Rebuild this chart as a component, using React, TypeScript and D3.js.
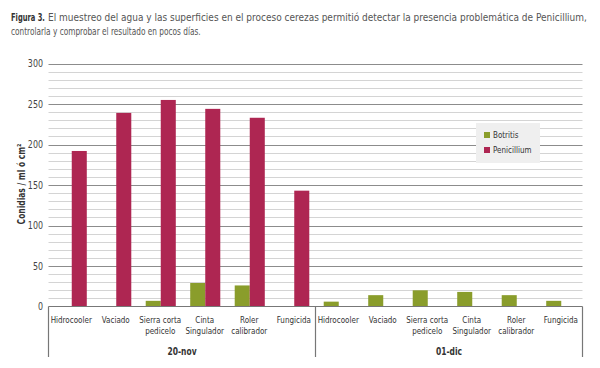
import React, { useEffect, useRef } from "react";
import * as d3 from "d3";

// Chart values
const groups = ["20-nov", "01-dic"];
const categories = ["Hidrocooler", "Vaciado", "Sierra corta\npedicelo", "Cinta\nSingulador", "Roler\ncalibrador", "Fungicida"];
const seriesNames = ["Botritis", "Penicillium"];
const botritis = [0, 0, 7, 29, 26, 0, 6, 14, 20, 18, 14, 7];
const penicillium = [192, 239, 255, 244, 233, 143, 0, 0, 0, 0, 0, 0];
const yTicks = [0, 50, 100, 150, 200, 250, 300];

const colors = { Botritis: "#8a9d2b", Penicillium: "#ae2652" };
const FONT = "'DejaVu Sans Condensed', 'Roboto', sans-serif";
const SQUEEZE = 0.84; // horizontal squeeze to imitate the narrow font of the original

const App = () => {
  const ref = useRef<SVGSVGElement>(null);

  useEffect(() => {
    const svg = d3.select(ref.current);
    svg.selectAll("*").remove();

    const left = 48.5, right = 582.5, top = 63.5, bottom = 306.5;

    // Caption lines, squeezed horizontally to the widths in the original
    const fitText = (x0: number, y0: number, width: number, txt: string, bold: boolean, fill: string) => {
      const t = svg.append("text").attr("x", 0).attr("y", 0)
        .attr("font-family", FONT).attr("font-size", 11)
        .attr("font-weight", bold ? "bold" : "normal").attr("fill", fill)
        .text(txt);
      const len = (t.node() as SVGTextElement).getComputedTextLength();
      t.attr("transform", `translate(${x0},${y0}) scale(${width / len},1)`);
    };
    fitText(11, 21, 34, "Figura 3.", true, "#333");
    fitText(48, 21, 539, "El muestreo del agua y las superficies en el proceso cerezas permitió detectar la presencia problemática de Penicillium,", false, "#555");
    fitText(11, 35, 190, "controlarla y comprobar el resultado en pocos días.", false, "#555");

    // Flattened rows: group + category
    const rows = groups.flatMap((g, gi) =>
      categories.map((c, ci) => ({
        key: `${g}|${c}`,
        group: g,
        cat: c,
        Botritis: botritis[gi * categories.length + ci],
        Penicillium: penicillium[gi * categories.length + ci],
      }))
    );

    const x = d3.scaleBand().domain(rows.map((d) => d.key)).range([left, right]).padding(0);
    const xs = d3.scaleBand().domain(seriesNames).range([0, x.bandwidth()]).paddingInner(0).paddingOuter(0.48);
    const y = d3.scaleLinear().domain([0, 300]).range([bottom, top]);

    // Grid lines: minor every 10, major every 50
    const minor = d3.range(10, 301, 10).filter((v) => v % 50 !== 0);
    svg.append("g").selectAll("line").data(minor).enter().append("line")
      .attr("x1", left).attr("x2", right)
      .attr("y1", (d) => Math.round(y(d)) + 0.5).attr("y2", (d) => Math.round(y(d)) + 0.5)
      .attr("stroke", "#d4d4d4").attr("stroke-width", 1);
    svg.append("g").selectAll("line").data(yTicks.filter((v) => v > 0)).enter().append("line")
      .attr("x1", left).attr("x2", right)
      .attr("y1", (d) => Math.round(y(d)) + 0.5).attr("y2", (d) => Math.round(y(d)) + 0.5)
      .attr("stroke", "#8c8c8c").attr("stroke-width", 1);

    // Bars
    const cat = svg.append("g").selectAll("g").data(rows).enter().append("g")
      .attr("transform", (d) => `translate(${x(d.key)! + 1},0)`);
    cat.selectAll("rect")
      .data((d) => seriesNames.map((s) => ({ s, v: (d as any)[s] as number })))
      .enter().append("rect")
      .attr("x", (d) => xs(d.s)!)
      .attr("width", xs.bandwidth())
      .attr("y", (d) => y(d.v))
      .attr("height", (d) => bottom - y(d.v))
      .attr("fill", (d) => colors[d.s as keyof typeof colors]);

    // Y axis labels
    svg.append("g").selectAll("text").data(yTicks).enter().append("text")
      .attr("transform", (d) => `translate(43,${y(d) + 3.5}) scale(${SQUEEZE},1)`)
      .attr("text-anchor", "end").attr("font-family", FONT).attr("font-size", 10.5).attr("fill", "#444")
      .text((d) => d);

    svg.append("text")
      .attr("transform", `translate(25,184) rotate(-90) scale(${SQUEEZE},1)`)
      .attr("text-anchor", "middle").attr("font-family", FONT).attr("font-size", 10)
      .attr("font-weight", "bold").attr("fill", "#333")
      .text("Conidias / ml ó cm²");

    // X axis line and group separators
    svg.append("line").attr("x1", left).attr("x2", right).attr("y1", bottom).attr("y2", bottom)
      .attr("stroke", "#777").attr("stroke-width", 1.2);
    const seps = [left, x(rows[categories.length].key)!, right];
    svg.append("g").selectAll("line").data(seps).enter().append("line")
      .attr("x1", (d) => d).attr("x2", (d) => d).attr("y1", bottom).attr("y2", 357)
      .attr("stroke", "#777").attr("stroke-width", 1.2);

    // Category labels
    const lab = svg.append("g").selectAll("text").data(rows).enter().append("text")
      .attr("transform", (d) => `translate(${x(d.key)! + x.bandwidth() / 2 + 0.5},0) scale(${SQUEEZE},1)`)
      .attr("text-anchor", "middle").attr("font-family", FONT).attr("font-size", 9.5).attr("fill", "#333");
    lab.each(function (d) {
      const t = d3.select(this);
      d.cat.split("\n").forEach((line, i) => {
        t.append("tspan").attr("x", 0).attr("y", 323 + i * 11).text(line);
      });
    });

    // Group labels
    svg.append("g").selectAll("text").data(groups).enter().append("text")
      .attr("transform", (d, i) => `translate(${(seps[i] + seps[i + 1]) / 2},355) scale(${SQUEEZE},1)`)
      .attr("text-anchor", "middle").attr("font-family", FONT).attr("font-size", 10)
      .attr("font-weight", "bold").attr("fill", "#333")
      .text((d) => d);

    // Legend
    const lg = svg.append("g");
    lg.append("rect").attr("x", 476).attr("y", 123).attr("width", 64).attr("height", 40).attr("fill", "#efefef");
    seriesNames.forEach((s, i) => {
      lg.append("rect").attr("x", 484).attr("y", 132 + i * 15).attr("width", 6).attr("height", 6)
        .attr("fill", colors[s as keyof typeof colors]);
      lg.append("text").attr("transform", `translate(493,${138 + i * 15}) scale(${SQUEEZE},1)`)
        .attr("font-family", FONT).attr("font-size", 9.5).attr("fill", "#333").text(s);
    });
  }, []);

  return <svg ref={ref} width={600} height={368} style={{ position: "absolute", left: 0, top: 0 }} />;
};

export default App;
